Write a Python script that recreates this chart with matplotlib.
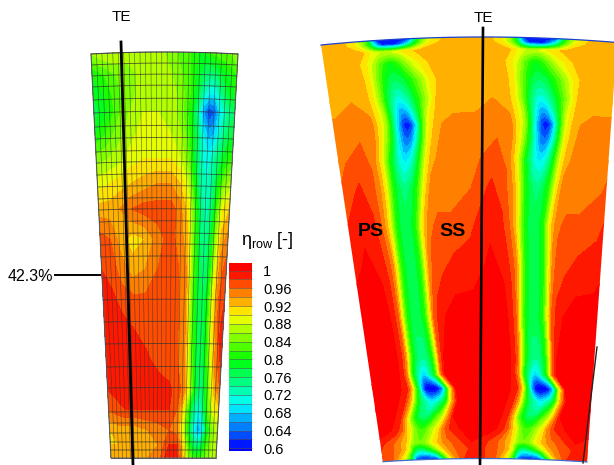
import numpy as np
import matplotlib
matplotlib.use('Agg')
import matplotlib.pyplot as plt
from matplotlib.cm import ScalarMappable
from matplotlib.colors import LinearSegmentedColormap, ListedColormap, Normalize, BoundaryNorm
from matplotlib.patches import Polygon

plt.rcParams['font.family'] = ['Liberation Sans', 'DejaVu Sans']
plt.rcParams['mathtext.fontset'] = 'custom'
plt.rcParams['mathtext.rm'] = 'Liberation Sans'
plt.rcParams['mathtext.it'] = 'Liberation Sans'

# left panel: measured eta on the probe mesh (pitch fraction / pixel row)
left_u = [0, .08, .16, .25, .35, .45, .55, .62, .68, .73, .78, .82, .86, .9, .95, 1]
left_y = [54, 75, 95, 113, 135, 160, 185, 210, 240, 270, 300, 330, 360, 390, 410, 430, 445, 458]
left_eta = [
    [.86, .88, .88, .87, .87, .87, .85, .83, .82, .80, .80, .82, .83, .84, .84, .86],
    [.80, .82, .84, .85, .87, .87, .86, .84, .82, .79, .76, .75, .76, .78, .80, .82],
    [.78, .80, .83, .85, .87, .88, .87, .85, .82, .78, .72, .70, .70, .74, .78, .80],
    [.77, .79, .83, .86, .88, .88, .87, .85, .81, .75, .66, .62, .64, .70, .74, .76],
    [.80, .82, .85, .87, .89, .89, .88, .86, .82, .77, .70, .67, .68, .72, .76, .78],
    [.85, .86, .87, .89, .90, .90, .90, .88, .84, .77, .72, .71, .73, .76, .80, .82],
    [.89, .90, .91, .92, .93, .94, .94, .92, .88, .80, .73, .72, .74, .79, .85, .87],
    [.93, .93, .94, .96, .97, .97, .97, .95, .91, .83, .75, .73, .75, .82, .90, .92],
    [.97, .96, .93, .91, .92, .95, .97, .95, .93, .84, .76, .74, .77, .85, .93, .95],
    [.98, .97, .95, .93, .94, .96, .97, .96, .94, .84, .77, .75, .78, .87, .95, .97],
    [.99, .985, .97, .965, .965, .965, .965, .96, .94, .83, .77, .76, .80, .89, .96, .98],
    [1.0, 1.0, .99, .98, .97, .965, .965, .96, .94, .84, .77, .76, .80, .89, .96, 1.0],
    [.995, 1.0, 1.0, .995, .985, .97, .965, .96, .94, .85, .77, .76, .79, .87, .95, .99],
    [.98, .99, 1.0, 1.0, 1.0, .995, .985, .97, .95, .87, .78, .75, .77, .84, .93, .96],
    [.96, .97, .98, .98, .98, .98, .98, .96, .90, .80, .73, .71, .75, .83, .89, .91],
    [.92, .93, .93, .93, .94, .95, .96, .95, .88, .78, .70, .66, .70, .79, .85, .87],
    [.92, .92, .92, .93, .93, .94, .98, .98, .91, .82, .76, .74, .77, .82, .86, .87],
    [.93, .93, .93, .93, .94, .95, 1.0, .99, .93, .86, .82, .81, .82, .84, .86, .88],
]
grid_y = [54, 65, 76, 87, 100, 113, 127, 139, 152, 163, 175, 187, 199, 210, 222, 234, 245,
          257, 278, 300, 322, 344, 367, 388, 412, 423, 433, 442, 450, 458]

# right panel: CFD eta for one passage, offset from wake centre, two passages shown
wake_d = [-.5, -.35, -.25, -.19, -.15, -.12, -.09, -.06, -.03, 0, .03, .06, .09, .12, .15, .19, .25, .35]
wake_y = [45, 50, 57, 68, 85, 105, 120, 130, 145, 165, 195, 230, 270, 320, 360, 378, 392, 405, 420, 432, 445, 452, 462]
wake_c = [.47, .47, .47, .46, .48, .50, .52, .53, .525, .50, .47, .45, .46, .46, .48, .48, .51, .52, .47, .42, .38, .42, .45]
wake_eta = [
    [.93, .93, .90, .85, .78, .66, .60, .60, .60, .60, .60, .60, .60, .62, .70, .80, .88, .92],
    [.94, .93, .91, .86, .80, .72, .66, .62, .62, .62, .62, .64, .68, .72, .78, .84, .90, .93],
    [.94, .94, .93, .92, .90, .89, .88, .88, .88, .88, .89, .90, .91, .92, .92, .93, .94, .94],
    [.94, .94, .93, .91, .89, .87, .84, .82, .80, .80, .81, .83, .85, .87, .89, .90, .92, .94],
    [.94, .94, .93, .91, .87, .84, .81, .78, .77, .76, .77, .78, .80, .82, .84, .87, .91, .94],
    [.94, .94, .935, .90, .86, .82, .77, .74, .71, .71, .72, .74, .77, .80, .83, .87, .92, .94],
    [.94, .945, .94, .90, .87, .81, .75, .70, .66, .65, .67, .71, .76, .82, .87, .91, .935, .94],
    [.945, .955, .945, .90, .86, .80, .73, .67, .62, .60, .62, .68, .76, .84, .89, .92, .94, .945],
    [.95, .96, .95, .90, .85, .80, .74, .69, .65, .64, .66, .71, .78, .85, .90, .93, .945, .945],
    [.955, .97, .955, .91, .85, .80, .76, .72, .70, .695, .71, .74, .79, .85, .90, .935, .945, .95],
    [.96, .985, .97, .945, .91, .86, .81, .78, .76, .75, .76, .78, .81, .86, .91, .945, .95, .95],
    [.975, .995, .985, .96, .93, .89, .83, .79, .77, .77, .77, .79, .83, .89, .93, .955, .965, .965],
    [.99, 1.005, .995, .975, .95, .90, .83, .79, .77, .77, .77, .79, .83, .90, .95, .97, .975, .985],
    [1.01, 1.01, 1.01, .99, .96, .90, .83, .79, .77, .77, .77, .79, .83, .90, .96, .985, 1.0, 1.01],
    [1.01, 1.01, 1.01, .99, .95, .88, .81, .77, .75, .75, .75, .77, .81, .88, .96, 1.0, 1.01, 1.01],
    [1.01, 1.01, 1.01, .99, .94, .85, .78, .74, .70, .68, .70, .74, .78, .85, .95, 1.0, 1.01, 1.01],
    [1.01, 1.01, 1.0, .98, .92, .84, .76, .66, .60, .58, .58, .58, .60, .64, .72, .88, 1.0, 1.01],
    [1.01, 1.01, .99, .93, .85, .80, .76, .74, .72, .70, .70, .72, .74, .77, .82, .92, 1.0, 1.01],
    [1.01, 1.01, .99, .92, .85, .81, .78, .76, .76, .76, .77, .80, .83, .85, .88, .93, 1.0, 1.01],
    [1.01, 1.01, .99, .96, .92, .90, .86, .84, .82, .82, .83, .85, .87, .89, .91, .95, .98, 1.0],
    [1.0, .98, .96, .94, .93, .91, .88, .86, .85, .84, .85, .86, .88, .90, .91, .93, .95, .97],
    [.99, .97, .95, .92, .88, .82, .77, .75, .75, .76, .78, .80, .83, .86, .89, .92, .95, .97],
    [.99, .96, .90, .82, .72, .62, .60, .60, .60, .60, .60, .60, .62, .68, .76, .84, .93, .98],
]

cbar_ticks = [.6, .64, .68, .72, .76, .8, .84, .88, .92, .96, 1]
cbar_labels = ['0.6', '0.64', '0.68', '0.72', '0.76', '0.8', '0.84', '0.88', '0.92', '0.96', '1']

levels = [.594] + [round(.6 + .02 * i, 2) for i in range(21)] + [1.017]
cmap = LinearSegmentedColormap.from_list('rainbow_eta', ['#0000ff', '#00ffff', '#00ff00', '#ffff00', '#ff0000'])
norm = Normalize(.6, 1.0)

fig = plt.figure(figsize=(6.14, 4.65), dpi=100)
ax = fig.add_axes([0, 0, 1, 1])
ax.set_xlim(0, 614)
ax.set_ylim(465, 0)
ax.axis('off')


# left panel mesh
def left_xy(u, y):
    t = (np.asarray(y, float) - 54) / 404
    xl = 91 + 20 * t
    xr = 238 - 22 * t
    return xl + np.asarray(u) * (xr - xl), y - 2 * (1 - (2 * np.asarray(u) - 1) ** 2) * (1 - t)


U, Y = np.meshgrid(left_u, left_y)
X1, Y1 = left_xy(U, Y)
ax.contourf(X1, Y1, np.array(left_eta), levels=levels, cmap=cmap, norm=norm, extend='both')

uu = np.linspace(0, 1, 28)
for yy in grid_y:
    xg, yg = left_xy(uu, np.full(28, float(yy)))
    ax.plot(xg, yg, color='#333333', lw=.6, alpha=.8)
yy = np.array(grid_y, float)
for u0 in uu:
    xg, yg = left_xy(np.full(len(yy), u0), yy)
    ax.plot(xg, yg, color='#333333', lw=.45, alpha=.7)
xo1, yo1 = left_xy(uu, np.full(28, 54.))
xo2, yo2 = left_xy(uu, np.full(28, 458.))
outline = np.vstack([np.c_[xo1, yo1], np.c_[xo2, yo2][::-1]])
ax.add_patch(Polygon(outline, closed=True, fill=False, ec='#777777', lw=.8))


# right panel, the same passage repeated
def edge_l(y):
    return 321 + 62 * (y - 45) / 417


def pitch(y):
    return 148 - 46 * (y - 45) / 417


def sag(x, y):
    t = (y - 45) / 417
    return -8 * (1 - ((x - 483) / 162) ** 2) * (1 - t) - 3.5 * (1 - ((x - 483) / 105) ** 2) * t


d = np.array(wake_d + [.5])
ry = np.array(wake_y, float)
rc = np.array(wake_c)
eta = np.array(wake_eta)
eta = np.hstack([eta, eta[:, :1]])

xs_top = np.linspace(edge_l(45), edge_l(45) + 2 * pitch(45), 80)
xs_bot = np.linspace(edge_l(462), edge_l(462) + 2 * pitch(462), 80)
top_arc = np.c_[xs_top, 45 + sag(xs_top, 45)]
bot_arc = np.c_[xs_bot, 462 + sag(xs_bot, 462)]
clip = Polygon(np.vstack([top_arc, bot_arc[::-1]]), closed=True, transform=ax.transData)

for k in (-1, 0, 1, 2):
    Xr = edge_l(ry)[:, None] + pitch(ry)[:, None] * (rc[:, None] + k + d[None, :])
    Yr = ry[:, None] + sag(Xr, ry[:, None])
    c2 = ax.contourf(Xr, Yr, eta, levels=levels, cmap=cmap, norm=norm, extend='both')
    c2.set_clip_path(clip)

ax.plot(top_arc[:, 0], top_arc[:, 1], color='#1a3fd0', lw=.9)
ax.plot(bot_arc[:, 0], bot_arc[:, 1], color='#3a6fd0', lw=.9)

# black lines and labels
ax.plot([121, 133], [42, 465], color='k', lw=2)
ax.plot([483, 480], [28, 465], color='k', lw=1.9)
ax.plot([597, 583], [347, 463], color='#222222', lw=1)
ax.plot([55, 100], [275, 275], color='k', lw=1.4)

ax.text(121, 17, 'TE', fontsize=11, ha='center', va='center')
ax.text(483, 18, 'TE', fontsize=11, ha='center', va='center')
ax.text(8, 276, '42.3%', fontsize=11.5, ha='left', va='center')
ax.text(371, 231, 'PS', fontsize=14, fontweight='bold', ha='center', va='center')
ax.text(452, 231, 'SS', fontsize=14, fontweight='bold', ha='center', va='center')
ax.text(241, 240, r'$\mathregular{\eta_{row}}$ [-]', fontsize=13, ha='left', va='center')

# colour bar, one flat band per level
mids = [(a + b) / 2 for a, b in zip(levels[:-1], levels[1:])]
band_cmap = ListedColormap([cmap(norm(m)) for m in mids])
cax = fig.add_axes([229 / 614, 1 - 451 / 465, 23 / 614, 188 / 465])
sm = ScalarMappable(norm=BoundaryNorm(levels, len(mids)), cmap=band_cmap)
cb = fig.colorbar(sm, cax=cax, ticks=cbar_ticks, drawedges=True, spacing='proportional')
cb.ax.set_yticklabels(cbar_labels, fontsize=10.5)
cb.ax.tick_params(length=0, pad=8)
cb.ax.minorticks_off()
cb.outline.set_visible(False)
cb.dividers.set_color('#555555')
cb.dividers.set_linewidth(.4)

fig.savefig('out.png', dpi=100)
